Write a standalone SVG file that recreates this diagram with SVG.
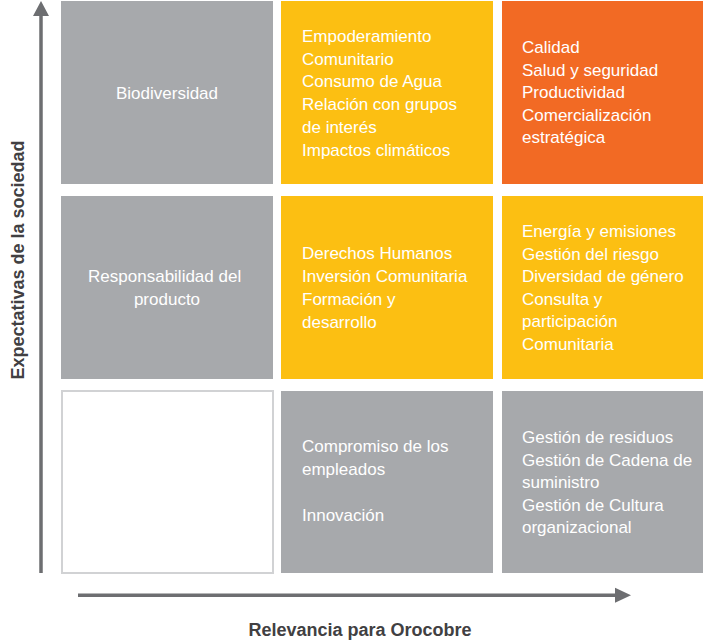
<svg xmlns="http://www.w3.org/2000/svg" width="703" height="643" viewBox="0 0 703 643">
<style>
.g{fill:#A7A9AC}
.y{fill:#FCBF12}
.o{fill:#F26A24}
.t{font-family:"Liberation Sans",Arial,sans-serif;font-size:17px;fill:#FFFFFF}
.c{text-anchor:middle}
.ax{font-family:"Liberation Sans",Arial,sans-serif;font-size:18px;font-weight:bold;fill:#414042}
.ln{stroke:#6D6E71;stroke-width:3.5;fill:none}
.hd{fill:#6D6E71}
</style>
<rect width="703" height="643" fill="#FFFFFF"/>
<g id="connectors">
<line class="ln" x1="41" y1="573" x2="41" y2="14"/>
<polygon class="hd" points="41,1 49,16 33,16"/>
<line class="ln" x1="78" y1="595.3" x2="617" y2="595.3"/>
<polygon class="hd" points="631,595.3 615,587.8 615,602.8"/>
</g>
<g id="cell-r1c1">
<rect class="g" x="61" y="1" width="212" height="183"/>
<text class="t c" x="167" y="99">Biodiversidad</text>
</g>
<g id="cell-r1c2">
<rect class="y" x="281" y="1" width="212" height="183"/>
<text class="t" x="302" y="42">
<tspan x="302" y="42">Empoderamiento</tspan>
<tspan x="302" y="64.7">Comunitario</tspan>
<tspan x="302" y="87.4">Consumo de Agua</tspan>
<tspan x="302" y="110.1">Relación con grupos</tspan>
<tspan x="302" y="132.8">de interés</tspan>
<tspan x="302" y="155.5">Impactos climáticos</tspan>
</text>
</g>
<g id="cell-r1c3">
<rect class="o" x="502" y="1" width="201" height="183"/>
<text class="t" x="522" y="53">
<tspan x="522" y="53">Calidad</tspan>
<tspan x="522" y="75.5">Salud y seguridad</tspan>
<tspan x="522" y="98">Productividad</tspan>
<tspan x="522" y="120.5">Comercialización</tspan>
<tspan x="522" y="143">estratégica</tspan>
</text>
</g>
<g id="cell-r2c1">
<rect class="g" x="61" y="196" width="212" height="183"/>
<text class="t c" x="167" y="282">
<tspan x="167" y="282">Responsabilidad del</tspan>
<tspan x="167" y="305">producto</tspan>
</text>
</g>
<g id="cell-r2c2">
<rect class="y" x="281" y="196" width="212" height="183"/>
<text class="t" x="302" y="259">
<tspan x="302" y="259">Derechos Humanos</tspan>
<tspan x="302" y="282">Inversión Comunitaria</tspan>
<tspan x="302" y="305">Formación y</tspan>
<tspan x="302" y="328">desarrollo</tspan>
</text>
</g>
<g id="cell-r2c3">
<rect class="y" x="502" y="196" width="201" height="183"/>
<text class="t" x="522" y="237">
<tspan x="522" y="237">Energía y emisiones</tspan>
<tspan x="522" y="259.6">Gestión del riesgo</tspan>
<tspan x="522" y="282.2">Diversidad de género</tspan>
<tspan x="522" y="304.8">Consulta y</tspan>
<tspan x="522" y="327.4">participación</tspan>
<tspan x="522" y="350">Comunitaria</tspan>
</text>
</g>
<g id="cell-r3c1">
<rect x="62" y="391" width="211" height="182" fill="#FFFFFF" stroke="#D1D2D4" stroke-width="2"/>
</g>
<g id="cell-r3c2">
<rect class="g" x="281" y="391" width="212" height="182"/>
<text class="t" x="302" y="452">
<tspan x="302" y="452">Compromiso de los</tspan>
<tspan x="302" y="474.7">empleados</tspan>
<tspan x="302" y="521">Innovación</tspan>
</text>
</g>
<g id="cell-r3c3">
<rect class="g" x="502" y="391" width="201" height="182"/>
<text class="t" x="522" y="443">
<tspan x="522" y="443">Gestión de residuos</tspan>
<tspan x="522" y="465.6">Gestión de Cadena de</tspan>
<tspan x="522" y="488.2">suministro</tspan>
<tspan x="522" y="510.8">Gestión de Cultura</tspan>
<tspan x="522" y="533.4">organizacional</tspan>
</text>
</g>
<g id="axis-x-label">
<text class="ax" x="360" y="636" text-anchor="middle">Relevancia para Orocobre</text>
</g>
<g id="axis-y-label">
<text class="ax" x="0" y="0" text-anchor="middle" transform="translate(24,260) rotate(-90)">Expectativas de la sociedad</text>
</g>
</svg>
